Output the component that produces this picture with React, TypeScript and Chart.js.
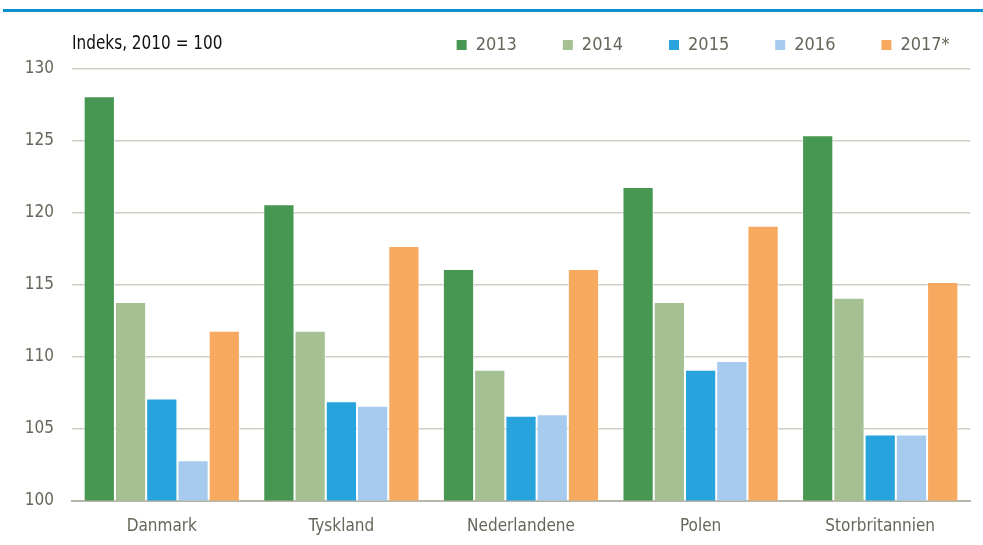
import React, { useEffect, useRef } from "react";
import { Chart, registerables } from "chart.js";

Chart.register(...registerables);

const categories = ["Danmark", "Tyskland", "Nederlandene", "Polen", "Storbritannien"];
const seriesNames = ["2013", "2014", "2015", "2016", "2017*"];
const values2013 = [128.1, 120.6, 116.1, 121.8, 125.4];
const values2014 = [113.8, 111.8, 109.1, 113.8, 114.1];
const values2015 = [107.1, 106.9, 105.9, 109.1, 104.6];
const values2016 = [102.8, 106.6, 106.0, 109.7, 104.6];
const values2017 = [111.8, 117.7, 116.1, 119.1, 115.2];
const colors = ["#479752", "#a5c194", "#27a3dd", "#a6cbee", "#f7a960"];
const yTitle = "Indeks, 2010 = 100";

const FONT = "'DejaVu Sans Condensed', 'Liberation Sans Narrow', sans-serif";

export default function App() {
  const ref = useRef<HTMLCanvasElement | null>(null);
  useEffect(() => {
    document.body.style.margin = "0";
    const all = [values2013, values2014, values2015, values2016, values2017];
    const topDeco = {
      id: "topDeco",
      beforeLayout(chart: any) {
        const lg = chart.legend;
        if (lg && !lg.__patched) {
          const orig = lg.fit.bind(lg);
          lg.fit = function () {
            orig();
            this.height += 5;
            this.minSize = { width: this.width, height: this.height };
          };
          lg.__patched = true;
        }
      },
      beforeDraw(chart: any) {
        const ctx = chart.ctx;
        ctx.save();
        ctx.fillStyle = "#ffffff";
        ctx.fillRect(0, 0, chart.width, chart.height);
        ctx.fillStyle = "#0a8fd2";
        ctx.fillRect(3, 9, chart.width - 3, 3);
        ctx.restore();
      },
      afterDraw(chart: any) {
        const ctx = chart.ctx;
        ctx.save();
        ctx.fillStyle = "#111111";
        ctx.font = "17px " + FONT;
        ctx.textBaseline = "middle";
        ctx.textAlign = "left";
        ctx.translate(72, 44);
        ctx.scale(1, 1.15);
        ctx.fillText(yTitle, 0, 0);
        ctx.restore();
      },
    };
    const chart = new Chart(ref.current!, {
      type: "bar",
      data: {
        labels: categories,
        datasets: all.map((d, i) => ({
          label: seriesNames[i],
          data: d,
          backgroundColor: colors[i],
          borderColor: "rgba(255,255,255,0.6)",
          borderWidth: 1,
          barPercentage: 1,
          categoryPercentage: 0.87,
        })),
      },
      options: {
        animation: false,
        responsive: false,
        maintainAspectRatio: false,
        layout: { padding: { left: 0, right: 13, top: 26, bottom: 0 } },
        plugins: {
          legend: {
            display: true,
            position: "top",
            align: "end",
            labels: {
              boxWidth: 10,
              boxHeight: 10,
              padding: 10,
              color: "#66665a",
              font: { family: FONT, size: 18 },
              generateLabels(c: any) {
                return c.data.datasets.map((ds: any, i: number) => ({
                  text: ds.label + (i < 4 ? "       " : "  "),
                  fillStyle: ds.backgroundColor,
                  strokeStyle: ds.backgroundColor,
                  lineWidth: 0,
                  fontColor: "#66665a",
                  datasetIndex: i,
                  hidden: false,
                }));
              },
            },
          },
          tooltip: { enabled: false },
        },
        scales: {
          x: {
            grid: { display: false },
            border: { display: true, color: "#b4b4a8", width: 2 },
            ticks: { color: "#66665a", font: { family: FONT, size: 17 }, padding: 8 },
          },
          y: {
            min: 100,
            max: 130,
            afterFit(scale: any) {
              scale.width = 72;
            },
            ticks: {
              stepSize: 5,
              color: "#66665a",
              font: { family: FONT, size: 17 },
              padding: 18,
            },
            grid: { color: "#cfcfc4", lineWidth: 1.5, drawTicks: false },
            border: { display: false },
          },
        },
      },
      plugins: [topDeco],
    });
    return () => chart.destroy();
  }, []);
  return <canvas ref={ref} width={983} height={545} style={{ display: "block" }} />;
}
